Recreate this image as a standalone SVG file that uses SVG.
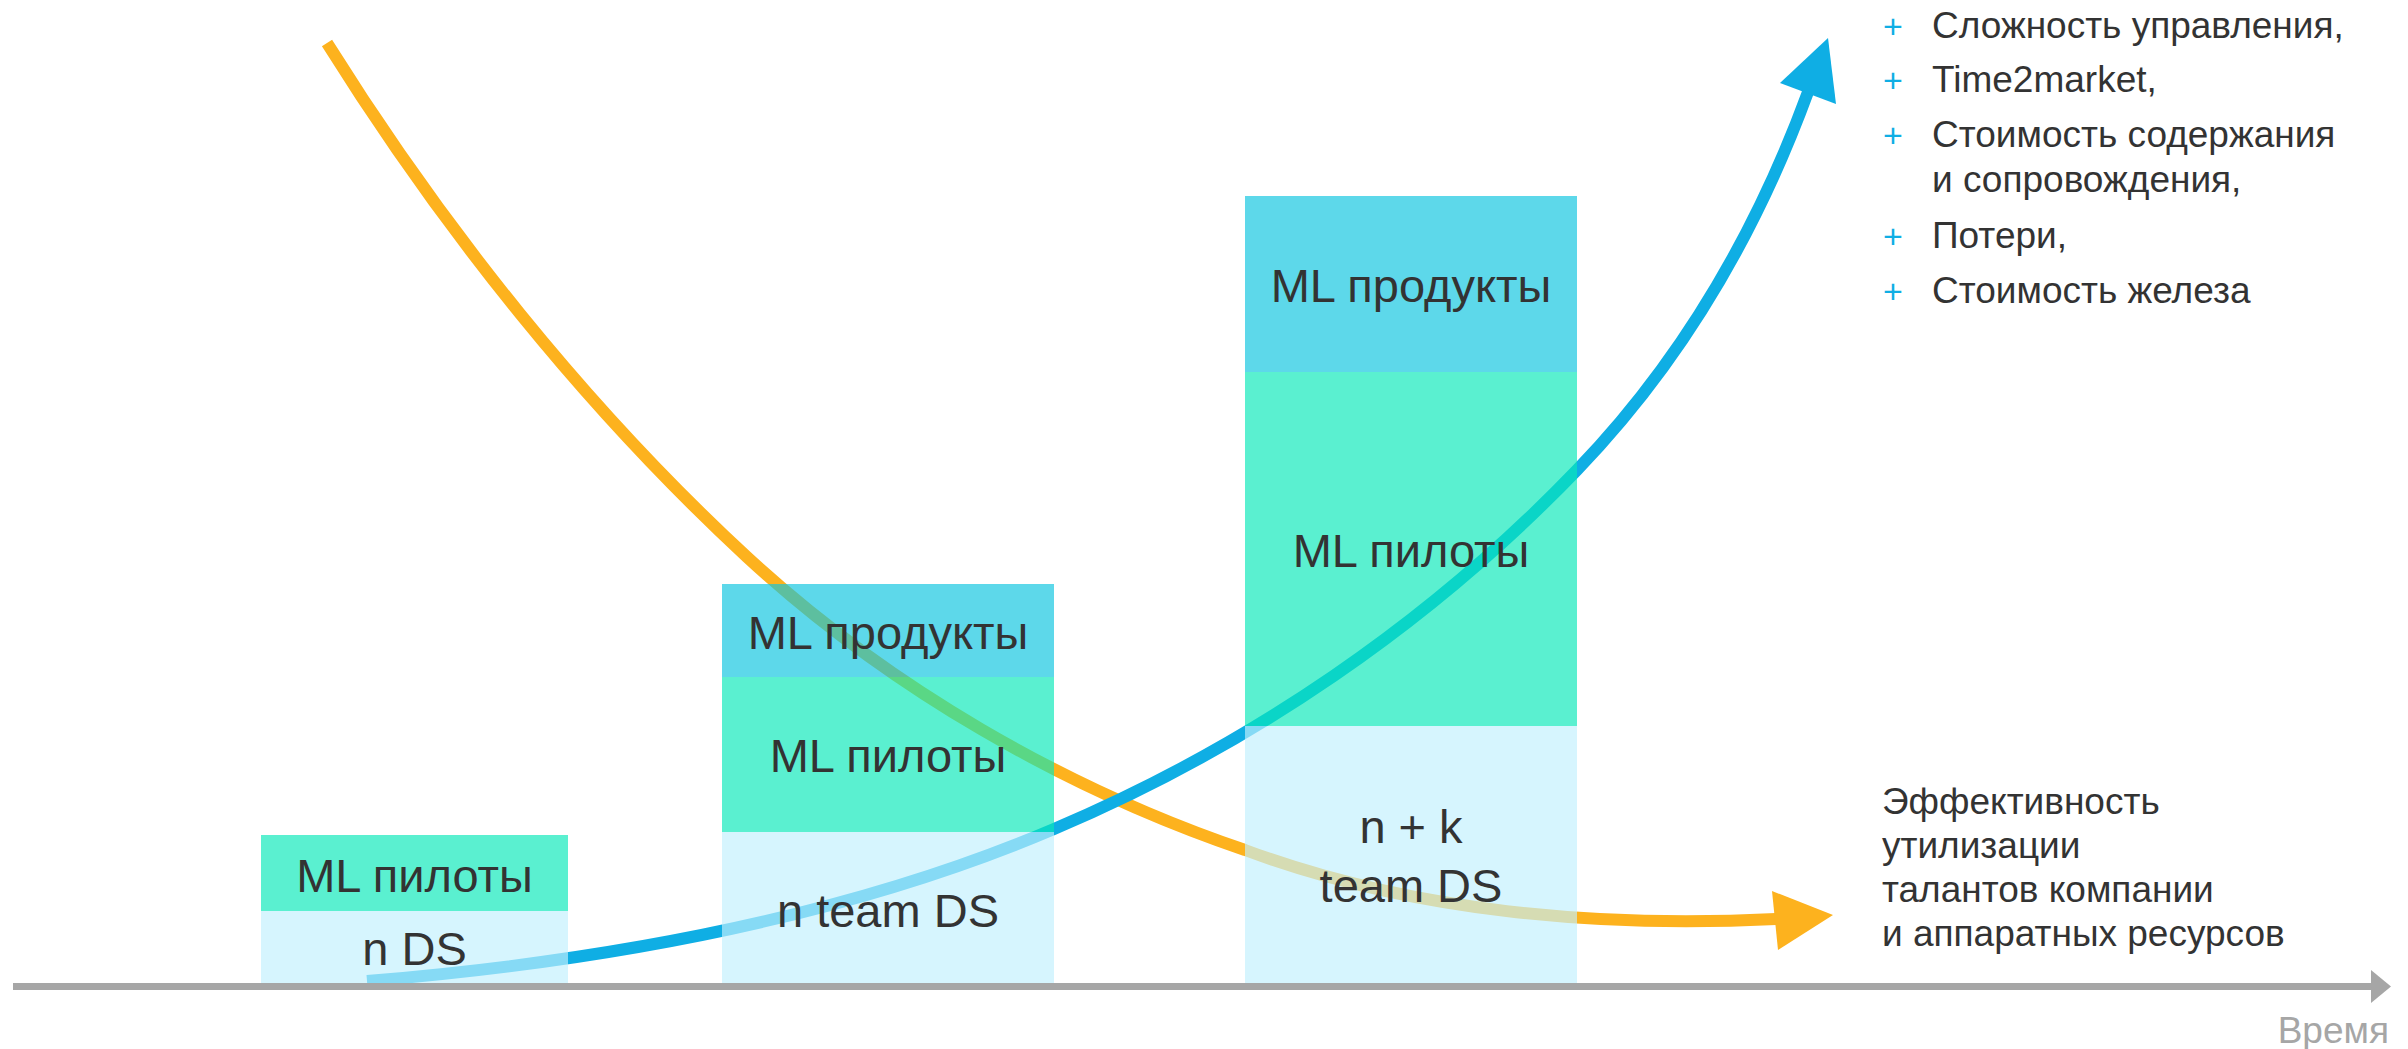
<svg xmlns="http://www.w3.org/2000/svg" width="2408" height="1049" viewBox="0 0 2408 1049">
  <style>
    .lbl { font-family: "Liberation Sans", Arial, sans-serif; font-size: 47px; fill: #333333; text-anchor: middle; }
    .side { font-family: "Liberation Sans", Arial, sans-serif; font-size: 37px; fill: #333333; }
    .plus { font-family: "Liberation Sans", Arial, sans-serif; font-size: 34px; fill: #0FAEE4; text-anchor: middle; }
    .axislbl { font-family: "Liberation Sans", Arial, sans-serif; font-size: 37px; fill: #A6A6A6; text-anchor: end; }
    .seg { fill-opacity: 0.67; }
    .light { fill: #C2F0FE; }
    .green { fill: #09E9B9; }
    .cyan { fill: #0DC5E0; }
  </style>
  <rect width="2408" height="1049" fill="#FFFFFF"/>

  <g id="connectors">
    <g id="orange-curve">
      <path d="M327,43 C444,230 586,408 747,557 C888,687 1065,789 1245,850 C1411,912 1600,928 1776,919" fill="none" stroke="#FDB21E" stroke-width="12"/>
      <polygon points="1772,891 1833,915 1778,950" fill="#FDB21E"/>
    </g>
    <g id="blue-curve">
      <path d="M367,981 C599,962 840,920 1054,829 C1250,746 1430,623 1577,470 C1681,362 1756,234 1808,92" fill="none" stroke="#0FAEE4" stroke-width="12"/>
      <polygon points="1828,38 1780,83 1836,104" fill="#0FAEE4"/>
    </g>
  </g>

  <g id="bar1">
    <rect class="seg green" x="261" y="835" width="307" height="76"/>
    <rect class="seg light" x="261" y="911" width="307" height="72"/>
    <text class="lbl" x="414.5" y="892">ML пилоты</text>
    <text class="lbl" x="414.5" y="965">n DS</text>
  </g>

  <g id="bar2">
    <rect class="seg cyan" x="722" y="584" width="332" height="93"/>
    <rect class="seg green" x="722" y="677" width="332" height="155"/>
    <rect class="seg light" x="722" y="832" width="332" height="151"/>
    <text class="lbl" x="888" y="649">ML продукты</text>
    <text class="lbl" x="888" y="772">ML пилоты</text>
    <text class="lbl" x="888" y="927">n team DS</text>
  </g>

  <g id="bar3">
    <rect class="seg cyan" x="1245" y="196" width="332" height="176"/>
    <rect class="seg green" x="1245" y="372" width="332" height="354"/>
    <rect class="seg light" x="1245" y="726" width="332" height="257"/>
    <text class="lbl" x="1411" y="302">ML продукты</text>
    <text class="lbl" x="1411" y="567">ML пилоты</text>
    <text class="lbl" x="1411" y="843">n + k</text>
    <text class="lbl" x="1411" y="902">team DS</text>
  </g>

  <g id="axis">
    <line x1="13" y1="986.5" x2="2373" y2="986.5" stroke="#A6A6A6" stroke-width="7"/>
    <polygon points="2371,970 2391,986.5 2371,1003" fill="#A6A6A6"/>
    <text class="axislbl" x="2389" y="1043">Время</text>
  </g>

  <g id="cost-list">
    <text class="plus" x="1893" y="38">+</text>
    <text class="side" x="1932" y="38">Сложность управления,</text>
    <text class="plus" x="1893" y="92">+</text>
    <text class="side" x="1932" y="92">Time2market,</text>
    <text class="plus" x="1893" y="147">+</text>
    <text class="side" x="1932" y="147">Стоимость содержания</text>
    <text class="side" x="1932" y="192">и сопровождения,</text>
    <text class="plus" x="1893" y="248">+</text>
    <text class="side" x="1932" y="248">Потери,</text>
    <text class="plus" x="1893" y="303">+</text>
    <text class="side" x="1932" y="303">Стоимость железа</text>
  </g>

  <g id="efficiency-label">
    <text class="side" x="1882" y="814">Эффективность</text>
    <text class="side" x="1882" y="858">утилизации</text>
    <text class="side" x="1882" y="902">талантов компании</text>
    <text class="side" x="1882" y="946">и аппаратных ресурсов</text>
  </g>
</svg>
